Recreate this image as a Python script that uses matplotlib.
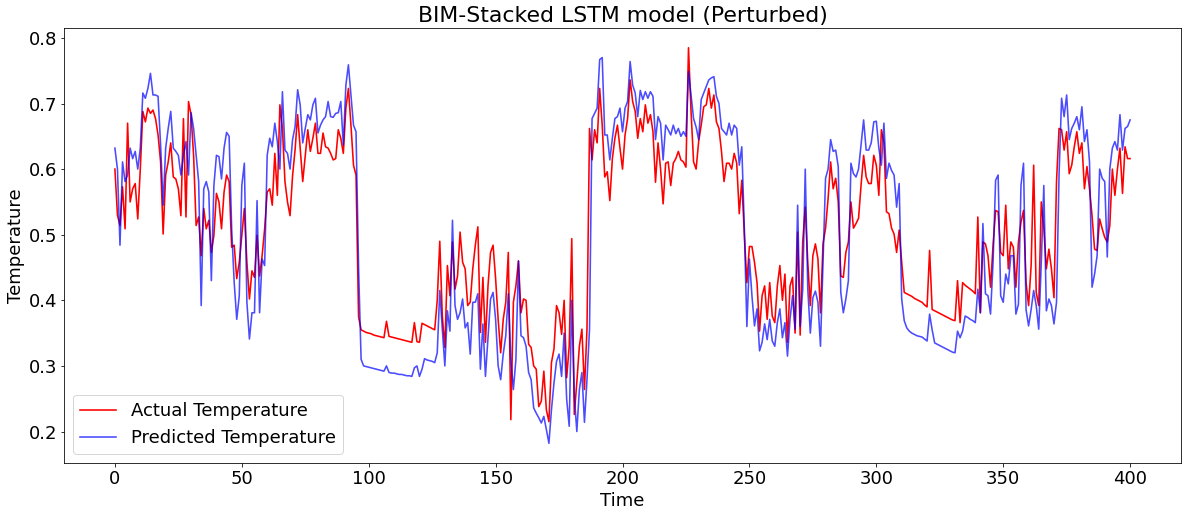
import numpy as np
import matplotlib
matplotlib.use('Agg')
import matplotlib.pyplot as plt

plt.rc('font', family='DejaVu Sans', size=18)

# values, one per time step (0..400)
actual = [
    0.60, 0.53, 0.514, 0.573, 0.509, 0.67, 0.55, 0.57, 0.578, 0.524, 0.60, 0.688, 0.672, 0.693, 0.685, 0.69, 0.677, 0.652,
    0.611, 0.501, 0.591, 0.611, 0.64, 0.588, 0.585, 0.57, 0.529, 0.677, 0.527, 0.703, 0.683, 0.621, 0.514, 0.527, 0.468, 0.54,
    0.509, 0.522, 0.473, 0.499, 0.563, 0.55, 0.509, 0.565, 0.591, 0.581, 0.481, 0.484, 0.433, 0.458, 0.499, 0.54, 0.458, 0.402,
    0.445, 0.435, 0.499, 0.437, 0.468, 0.509, 0.565, 0.57, 0.545, 0.624, 0.56, 0.698, 0.662, 0.581, 0.55, 0.529, 0.59, 0.63,
    0.683, 0.632, 0.581, 0.621, 0.66, 0.627, 0.647, 0.67, 0.624, 0.624, 0.655, 0.634, 0.632, 0.624, 0.614, 0.616, 0.66, 0.647,
    0.624, 0.693, 0.723, 0.667, 0.606, 0.591,
    0.375, 0.355, 0.353, 0.351, 0.35, 0.349, 0.347, 0.346, 0.345, 0.344, 0.343, 0.368, 0.345, 0.344, 0.343, 0.342, 0.341, 0.340,
    0.339, 0.338, 0.337, 0.336, 0.366, 0.337, 0.336, 0.365, 0.363, 0.361, 0.359, 0.357, 0.355, 0.40,
    0.49, 0.376, 0.328, 0.453, 0.407, 0.489, 0.417, 0.437, 0.504, 0.458, 0.448, 0.392,
    0.397, 0.448, 0.484, 0.512, 0.351, 0.435, 0.336, 0.422, 0.473, 0.484, 0.433, 0.371, 0.32, 0.371, 0.397, 0.473, 0.218, 0.397,
    0.422, 0.46, 0.381, 0.402, 0.40, 0.333, 0.328, 0.30, 0.295, 0.238, 0.246, 0.292, 0.233, 0.215, 0.305, 0.326, 0.392, 0.381,
    0.348, 0.40,
    0.282, 0.33, 0.494, 0.226, 0.275, 0.33, 0.356, 0.264, 0.356, 0.662, 0.614, 0.66, 0.64, 0.723, 0.667, 0.588, 0.596, 0.552,
    0.616, 0.647, 0.667, 0.632, 0.60, 0.652, 0.677, 0.736, 0.703, 0.688, 0.647, 0.677, 0.657, 0.698, 0.67, 0.683, 0.657, 0.58,
    0.64, 0.60, 0.547, 0.609, 0.611, 0.575, 0.609, 0.616, 0.627, 0.614, 0.611, 0.603, 0.785, 0.688, 0.611, 0.60, 0.642, 0.667,
    0.695, 0.698, 0.723, 0.693, 0.713, 0.672, 0.662, 0.627, 0.581, 0.609, 0.609, 0.60, 0.624, 0.609, 0.532, 0.583,
    0.50, 0.427, 0.482, 0.482, 0.458, 0.427, 0.353, 0.407, 0.422, 0.371, 0.427, 0.376, 0.366, 0.422, 0.453, 0.40, 0.44, 0.336,
    0.422, 0.435, 0.35, 0.504, 0.347, 0.489, 0.542, 0.458, 0.392, 0.468, 0.486, 0.463, 0.381, 0.486, 0.51, 0.555, 0.611, 0.57,
    0.586, 0.55, 0.437, 0.435, 0.473, 0.489, 0.55, 0.51, 0.517, 0.525, 0.576, 0.621, 0.588, 0.578, 0.578, 0.621, 0.606, 0.56,
    0.66, 0.64, 0.535, 0.532, 0.51, 0.501, 0.473, 0.507, 0.458, 0.412, 0.41, 0.408, 0.406, 0.403, 0.401, 0.399,
    0.397, 0.393, 0.39, 0.476, 0.386, 0.384, 0.382, 0.38, 0.378, 0.376, 0.374, 0.372, 0.37, 0.369, 0.43, 0.366, 0.427, 0.423,
    0.42, 0.417, 0.414, 0.41, 0.527, 0.381, 0.489, 0.486, 0.468, 0.42, 0.484, 0.537, 0.535, 0.473, 0.468, 0.545, 0.448,
    0.489, 0.481, 0.42, 0.489, 0.519, 0.537, 0.427, 0.392, 0.453, 0.606, 0.412, 0.392, 0.55, 0.509, 0.448, 0.478, 0.448, 0.404,
    0.581, 0.662, 0.66, 0.629, 0.657, 0.593, 0.606, 0.634, 0.657, 0.624, 0.64, 0.57, 0.604, 0.57, 0.529, 0.478, 0.476, 0.524,
    0.509, 0.496, 0.489, 0.514, 0.60, 0.56, 0.60, 0.632, 0.563, 0.634, 0.616, 0.616,
]

predicted = [
    0.632, 0.60, 0.484, 0.611, 0.581, 0.591, 0.632, 0.616, 0.627, 0.60, 0.632, 0.716, 0.708, 0.723, 0.746, 0.713, 0.713, 0.711,
    0.637, 0.545, 0.632, 0.662, 0.688, 0.632, 0.627, 0.621, 0.591, 0.621, 0.642, 0.591, 0.686, 0.662, 0.621, 0.581, 0.392, 0.57,
    0.581, 0.565, 0.43, 0.575, 0.621, 0.619, 0.585, 0.632, 0.656, 0.65, 0.509, 0.427, 0.371, 0.407, 0.575, 0.609, 0.397, 0.341,
    0.381, 0.381, 0.552, 0.381, 0.463, 0.453, 0.621, 0.647, 0.634, 0.67, 0.642, 0.60, 0.718, 0.629, 0.624, 0.60, 0.645, 0.665,
    0.721, 0.698, 0.64, 0.662, 0.683, 0.675, 0.698, 0.708, 0.655, 0.667, 0.675, 0.68, 0.703, 0.68, 0.679, 0.685, 0.686, 0.703,
    0.637, 0.728, 0.759, 0.713, 0.667, 0.657,
    0.45, 0.31, 0.30, 0.299, 0.298, 0.297, 0.296, 0.295, 0.294, 0.293, 0.292, 0.30, 0.29, 0.289, 0.289, 0.288, 0.287, 0.287,
    0.286, 0.285, 0.285, 0.284, 0.297, 0.30, 0.284, 0.295, 0.311, 0.309, 0.308, 0.307, 0.305, 0.32,
    0.415, 0.356, 0.30, 0.384, 0.353, 0.522, 0.392, 0.371, 0.381, 0.402, 0.358, 0.366,
    0.318, 0.397, 0.397, 0.41, 0.295, 0.364, 0.284, 0.343, 0.402, 0.412, 0.371, 0.30, 0.279, 0.318, 0.346, 0.41, 0.31, 0.264,
    0.31, 0.46, 0.346, 0.343, 0.33, 0.29, 0.279, 0.236, 0.228, 0.221, 0.213, 0.223, 0.203, 0.182, 0.233, 0.274, 0.307, 0.318,
    0.284, 0.35,
    0.249, 0.208, 0.40, 0.254, 0.20, 0.264, 0.29, 0.214, 0.279, 0.356, 0.677, 0.685, 0.693, 0.767, 0.77, 0.652, 0.652, 0.614,
    0.647, 0.677, 0.68, 0.693, 0.657, 0.693, 0.703, 0.764, 0.728, 0.716, 0.68, 0.72, 0.706, 0.718, 0.708, 0.718, 0.711,
    0.645, 0.68, 0.67, 0.614, 0.667, 0.66, 0.652, 0.667, 0.654, 0.662, 0.65, 0.657, 0.65, 0.749, 0.713, 0.677, 0.664, 0.645,
    0.706, 0.716, 0.726, 0.736, 0.739, 0.741, 0.711, 0.70, 0.662, 0.657, 0.652, 0.67, 0.652, 0.667, 0.662, 0.606, 0.634,
    0.51, 0.36, 0.463, 0.407, 0.361, 0.387, 0.323, 0.336, 0.364, 0.34, 0.371, 0.338, 0.33, 0.366, 0.387, 0.343, 0.366, 0.315,
    0.371, 0.407, 0.356, 0.545, 0.36, 0.417, 0.60, 0.417, 0.35, 0.404, 0.414, 0.397, 0.33, 0.458, 0.586, 0.60, 0.645, 0.627,
    0.629, 0.604, 0.412, 0.381, 0.402, 0.43, 0.609, 0.593, 0.588, 0.60, 0.637, 0.675, 0.629, 0.629, 0.64, 0.672, 0.673, 0.632,
    0.606, 0.67, 0.586, 0.609, 0.598, 0.591, 0.542, 0.578, 0.402, 0.369, 0.358, 0.353, 0.35, 0.348, 0.346, 0.345,
    0.344, 0.341, 0.338, 0.379, 0.355, 0.335, 0.333, 0.331, 0.329, 0.327, 0.325, 0.323, 0.321, 0.32, 0.353, 0.343, 0.353, 0.376,
    0.374, 0.371, 0.369, 0.366, 0.417, 0.381, 0.517, 0.41, 0.407, 0.379, 0.458, 0.583, 0.591, 0.407, 0.397, 0.44, 0.425,
    0.468, 0.468, 0.379, 0.394, 0.575, 0.609, 0.386, 0.361, 0.386, 0.415, 0.392, 0.356, 0.458, 0.575, 0.384, 0.402, 0.392, 0.364,
    0.397, 0.591, 0.708, 0.68, 0.713, 0.645, 0.662, 0.67, 0.68, 0.66, 0.695, 0.642, 0.66, 0.611, 0.42, 0.44, 0.468, 0.60,
    0.586, 0.581, 0.466, 0.60, 0.632, 0.642, 0.629, 0.683, 0.629, 0.662, 0.665, 0.675,
]

t_actual = np.arange(len(actual))
t_pred = np.arange(len(predicted))

fig = plt.figure(figsize=(1188/72, 518/72), dpi=72)
ax = fig.add_axes([0.054, 0.106, 0.94, 0.84])

ax.plot(t_actual, actual, color='red', lw=1.6, label='Actual Temperature')
ax.plot(t_pred, predicted, color='blue', alpha=0.7, lw=1.6, label='Predicted Temperature')

ax.set_title('BIM-Stacked LSTM model (Perturbed)', fontsize=22)
ax.set_xlabel('Time')
ax.set_ylabel('Temperature')
ax.set_xticks([0, 50, 100, 150, 200, 250, 300, 350, 400])
ax.set_yticks([0.2, 0.3, 0.4, 0.5, 0.6, 0.7, 0.8])
ax.legend(loc='lower left')

fig.savefig('out.png', dpi=72)
